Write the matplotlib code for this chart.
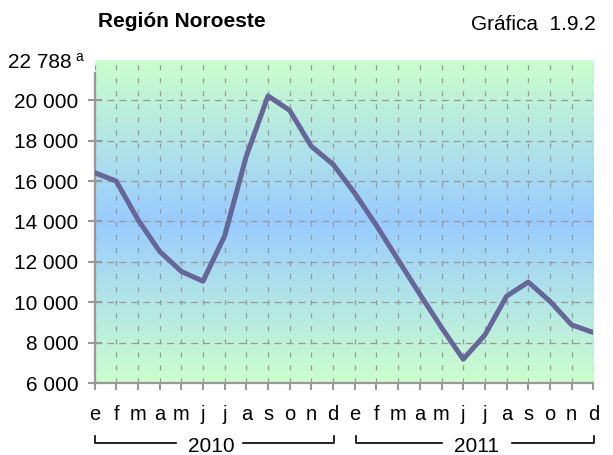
import matplotlib
matplotlib.use('Agg')
import matplotlib.pyplot as plt
import numpy as np
from matplotlib.colors import LinearSegmentedColormap
import matplotlib.transforms as mtransforms

plt.rcParams['font.family'] = ['Liberation Sans', 'DejaVu Sans']
plt.rcParams['lines.scale_dashes'] = False

# monthly values, Jan 2010 - Dec 2011
months = ['e', 'f', 'm', 'a', 'm', 'j', 'j', 'a', 's', 'o', 'n', 'd'] * 2
years = ['2010', '2011']
values = [16420, 16000, 14100, 12520, 11530, 11040, 13290, 17240, 20220, 19500, 17720, 16830,
          15400, 13800, 12100, 10400, 8750, 7180, 8380, 10300, 11000, 10050, 8880, 8500]
yticks = [6000, 8000, 10000, 12000, 14000, 16000, 18000, 20000]
ytick_labels = ['6 000', '8 000', '10 000', '12 000', '14 000', '16 000', '18 000', '20 000']

fig = plt.figure(figsize=(6.13, 4.55), dpi=100)
ax = fig.add_axes([0.1542, 0.1582, 0.8137, 0.710])

x = np.arange(len(values))
ax.set_xlim(0, len(values) - 1)
ax.set_ylim(6000, 22000)

# background gradient: green - blue - green
cmap = LinearSegmentedColormap.from_list('bg', ['#ccffcc', '#99ccff', '#ccffcc'])
grad = np.linspace(0, 1, 256).reshape(-1, 1)
ax.imshow(grad, aspect='auto', cmap=cmap, extent=[0, len(values) - 1, 6000, 22000],
          origin='lower', zorder=0)

ax.set_yticks(yticks)
ax.set_yticklabels(ytick_labels, fontsize=15)
ax.set_xticks(x)
ax.set_xticklabels(months, fontsize=14.5)

# dashed grid
ax.xaxis.grid(True, color='#999999', linestyle=(0, (3.6, 5.8)), linewidth=0.9)
ax.yaxis.grid(True, color='#999999', linestyle=(0, (5, 3.6)), linewidth=0.9)
ax.set_axisbelow(False)

ax.plot(x, values, color='#666699', linewidth=3.6, zorder=3)

for s in ['top', 'right']:
    ax.spines[s].set_visible(False)
for s in ['left', 'bottom']:
    ax.spines[s].set_color('#999999')
    ax.spines[s].set_linewidth(1.6)
ax.spines['left'].set_bounds(6000, 21350)
ax.tick_params(axis='x', colors='#999999', width=1.5, length=5, pad=11, labelcolor='black')
ax.tick_params(axis='y', colors='#999999', width=1.5, length=9.4, direction='inout',
               pad=7, labelcolor='black')

# top label
ax.text(-0.045, 0.992, '22 788', transform=ax.transAxes, ha='right', va='center', fontsize=15)
ax.text(-0.038, 1.01, 'a', transform=ax.transAxes, ha='left', va='center', fontsize=10)

# year brackets
tr = mtransforms.blended_transform_factory(ax.transData, ax.transAxes)
yb, yt = -0.187, -0.164
bracket_x = [(0, 3.75, 6.85, 11.05), (12.05, 16.0, 19.25, 23.05)]
text_x = [5.38, 17.6]
for yr, (a0, a1, b0, b1), tx in zip(years, bracket_x, text_x):
    ax.plot([a0, a0, a1], [yt, yb, yb], color='black', lw=1.2, transform=tr, clip_on=False)
    ax.plot([b0, b1, b1], [yb, yb, yt], color='black', lw=1.2, transform=tr, clip_on=False)
    ax.text(tx, yb - 0.01, yr, transform=tr, ha='center', va='center', fontsize=15)

fig.text(0.16, 0.952, 'Región Noroeste', fontsize=15, fontweight='bold', ha='left', va='center')
fig.text(0.972, 0.946, 'Gráfica  1.9.2', fontsize=15, ha='right', va='center')

fig.savefig('out.png', dpi=100)
